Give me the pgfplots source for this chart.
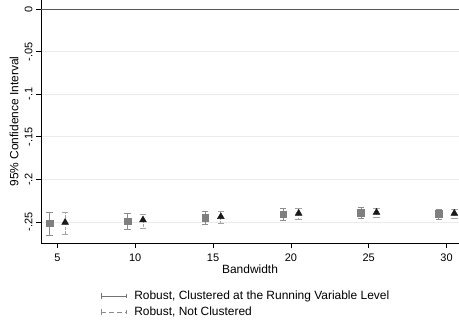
\documentclass[border=0pt]{standalone}
\usepackage{pgfplots}
\pgfplotsset{compat=1.18}
\usepackage{pgfplotstable}
\usepackage{fontspec}
\setmainfont{Liberation Sans}
\definecolor{sqgray}{HTML}{7F7F7F}
\definecolor{bargray}{HTML}{8C8C8C}
\definecolor{trib}{HTML}{1A1A1A}
\pgfplotstableread{
x y ep em
4.5 -0.2515 0.0132 0.0141
9.5 -0.2488 0.0090 0.0094
14.5 -0.2449 0.0078 0.0078
19.5 -0.2406 0.0066 0.0071
24.5 -0.2391 0.0063 0.0066
29.5 -0.2402 0.0051 0.0063
}\sqdata
\pgfplotstableread{
x y ep em
5.5 -0.2504 0.0114 0.0140
10.5 -0.2476 0.0070 0.0103
15.5 -0.2437 0.0058 0.0083
20.5 -0.2398 0.0058 0.0072
25.5 -0.2387 0.0047 0.0063
30.5 -0.2398 0.0048 0.0059
}\tridata
\begin{document}
\begin{tikzpicture}
\begin{axis}[
  scale only axis,
  width=418bp, height=243bp,
  xmin=3.95, xmax=30.8,
  ymin=-0.2746, ymax=0.0106,
  axis x line*=bottom, axis y line*=left,
  axis line style={-, black, line width=0.8pt},
  tick align=outside,
  major tick length=5bp,
  tick style={black, line width=0.7pt},
  xtick={5,10,15,20,25,30},
  xticklabels={5,10,15,20,25,30},
  ytick={-0.25,-0.2,-0.15,-0.1,-0.05,0},
  yticklabels={-.25,-.2,-.15,-.1,-.05,0},
  ticklabel style={font=\fontsize{11}{12}\selectfont},
  xticklabel style={yshift=-2bp},
  yticklabel style={rotate=90, anchor=south},
  ymajorgrids,
  grid style={black!8, line width=0.7pt},
  xlabel={Bandwidth},
  ylabel={95\% Confidence Interval},
  label style={font=\fontsize{12}{14}\selectfont},
  xlabel style={at={(axis description cs:0.5,-0.107)}, anchor=center},
  ylabel style={at={(axis description cs:-0.0646,0.5)}, anchor=center},
  clip=false,
  legend style={at={(axis description cs:0.14,-0.185)}, anchor=north west,
    draw=none, fill=none, font=\fontsize{12}{14}\selectfont, row sep=1.5bp,
    inner sep=1pt},
  legend cell align=left,
]
\draw[black!65, line width=1pt] (axis cs:3.95,0) -- (axis cs:30.8,0);
\addplot[forget plot, only marks, mark=square*, mark size=3.3bp, color=sqgray,
  error bars/.cd, y dir=both, y explicit,
  error bar style={bargray, line width=0.8pt},
  error mark options={rotate=90, bargray, mark size=3.2bp, line width=0.8pt}]
  table[x=x, y=y, y error plus=ep, y error minus=em] {\sqdata};
\addplot[forget plot, only marks, mark=triangle*, mark size=4bp, color=trib,
  error bars/.cd, y dir=both, y explicit,
  error bar style={bargray!80, line width=0.8pt, dash pattern=on 3bp off 1.5bp},
  error mark options={rotate=90, bargray!80, mark size=3.2bp, line width=0.8pt, solid}]
  table[x=x, y=y, y error plus=ep, y error minus=em] {\tridata};
\addlegendimage{legend image code/.code={
  \draw[black!55, line width=0.7pt] (0bp,0bp) -- (25bp,0bp);
  \draw[black!55, line width=0.7pt] (0bp,-3bp) -- (0bp,3bp);
  \draw[black!55, line width=0.7pt] (25bp,-2bp) -- (25bp,2bp);
  \path (31bp,0bp);}}
\addlegendentry{Robust, Clustered at the Running Variable Level}
\addlegendimage{legend image code/.code={
  \draw[black!45, line width=0.7pt, dash pattern=on 5bp off 3bp] (0bp,0bp) -- (25bp,0bp);
  \draw[black!45, line width=0.7pt] (0bp,-3bp) -- (0bp,3bp);
  \draw[black!45, line width=0.7pt] (25bp,-2bp) -- (25bp,2bp);
  \path (31bp,0bp);}}
\addlegendentry{Robust, Not Clustered}
\coordinate (bl) at (rel axis cs:0,0);
\coordinate (tr) at (rel axis cs:1,1);
\end{axis}
\pgfresetboundingbox
\useasboundingbox ([xshift=-41bp,yshift=-80bp]bl) rectangle (tr);
\end{tikzpicture}
\end{document}
